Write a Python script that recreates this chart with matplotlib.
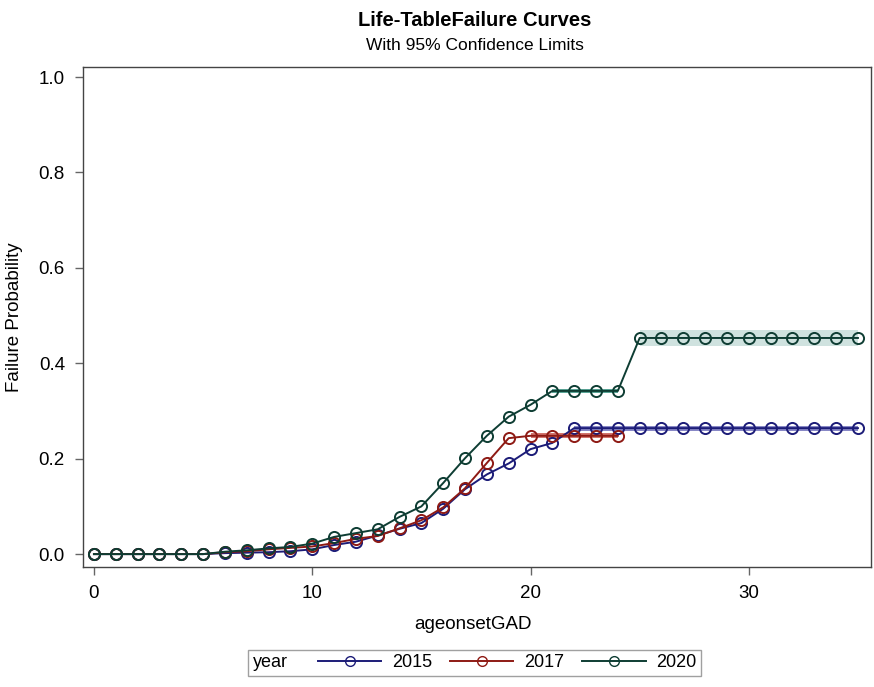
import matplotlib
matplotlib.use("Agg")
import matplotlib.pyplot as plt
from matplotlib.lines import Line2D
from matplotlib.offsetbox import HPacker

plt.rcParams['font.family'] = ['Liberation Sans', 'DejaVu Sans']

ages = list(range(0, 36))

years = ["2015", "2017", "2020"]

fail_2015 = [0, 0, 0, 0, 0, 0, 0.002, 0.003, 0.004, 0.006, 0.010, 0.019, 0.026, 0.039,
             0.053, 0.065, 0.095, 0.136, 0.167, 0.190, 0.220, 0.233, 0.264, 0.264,
             0.264, 0.264, 0.264, 0.264, 0.264, 0.264, 0.264, 0.264, 0.264, 0.264,
             0.264, 0.264]
fail_2017 = [0, 0, 0, 0, 0, 0, 0.004, 0.006, 0.010, 0.013, 0.016, 0.023, 0.032, 0.038,
             0.054, 0.071, 0.098, 0.138, 0.191, 0.243, 0.248, 0.248, 0.248, 0.248, 0.248]
fail_2020 = [0, 0, 0, 0, 0, 0, 0.005, 0.008, 0.012, 0.015, 0.022, 0.036, 0.044, 0.052,
             0.078, 0.100, 0.149, 0.201, 0.248, 0.288, 0.313, 0.342, 0.342, 0.342,
             0.342, 0.453, 0.453, 0.453, 0.453, 0.453, 0.453, 0.453, 0.453, 0.453,
             0.453, 0.453]

# confidence bands (visible flat parts): start age, end age, lower, upper
band_2015 = (22, 35, 0.259, 0.269)
band_2017 = (20, 24, 0.243, 0.253)
band_2020_a = (21, 24, 0.337, 0.347)
band_2020_b = (25, 35, 0.436, 0.470)

colors = {"2015": "#1c1c78", "2017": "#8e1a14", "2020": "#0e3d33"}
band_colors = {"2015": "#6a6ab8", "2017": "#c9524a", "2020": "#2f8f7c"}

fig = plt.figure(figsize=(8.74, 6.87), dpi=100)
ax = fig.add_axes([0.095, 0.1747, 0.9016, 0.7278])

ax.fill_between([band_2020_b[0], band_2020_b[1]], band_2020_b[2], band_2020_b[3],
                color="#cfe2df", lw=0, zorder=1)
for (a0, a1, lo, hi), yr in [(band_2015, "2015"), (band_2017, "2017"), (band_2020_a, "2020")]:
    ax.fill_between([a0, a1], lo, hi, color=band_colors[yr], lw=0, zorder=1, alpha=0.8)

series = [("2015", fail_2015), ("2017", fail_2017), ("2020", fail_2020)]
for yr, vals in series:
    ax.plot(ages[:len(vals)], vals, color=colors[yr], lw=1.4, marker='o', ms=8,
            mfc='none', mec=colors[yr], mew=1.4, zorder=3)

ax.set_xlim(-0.5, 35.6)
ax.set_ylim(-0.027, 1.021)
ax.set_xticks([0, 10, 20, 30])
ax.set_yticks([0.0, 0.2, 0.4, 0.6, 0.8, 1.0])
ax.set_yticklabels(["0.0", "0.2", "0.4", "0.6", "0.8", "1.0"])
ax.tick_params(axis='both', labelsize=13.5, color="#666666", length=6, width=1, pad=7)
for s in ax.spines.values():
    s.set_color("#444444")
    s.set_linewidth(1.0)

ax.set_xlabel("ageonsetGAD", fontsize=13.5)
ax.set_ylabel("Failure Probability", fontsize=13.5)
ax.xaxis.set_label_coords(0.495, -0.098)
ax.yaxis.set_label_coords(-0.076, 0.5)

fig.text(0.5435, 0.970, "Life-TableFailure Curves", ha='center', va='center',
         fontsize=14.5, fontweight='bold')
fig.text(0.5435, 0.934, "With 95% Confidence Limits", ha='center', va='center', fontsize=12.5)

handles = [Line2D([], [], color=colors[yr], lw=1.4, marker='o', ms=7, mfc='none',
                  mec=colors[yr]) for yr in years]
leg = fig.legend(handles, years, loc='center', bbox_to_anchor=(0.543, 0.035), ncol=3,
                 frameon=True, fontsize=13, handlelength=3.5, columnspacing=1.0,
                 handletextpad=0.6, borderpad=0.25, fancybox=False, title="year",
                 title_fontsize=13)
leg.get_frame().set_edgecolor("#888888")
title_box = leg._legend_title_box
handle_box = leg._legend_handle_box
leg._legend_box._children = [HPacker(pad=0, sep=22, children=[title_box, handle_box],
                                     align="center")]
leg._legend_box.set_figure(fig)

fig.savefig("out.png", dpi=100)
